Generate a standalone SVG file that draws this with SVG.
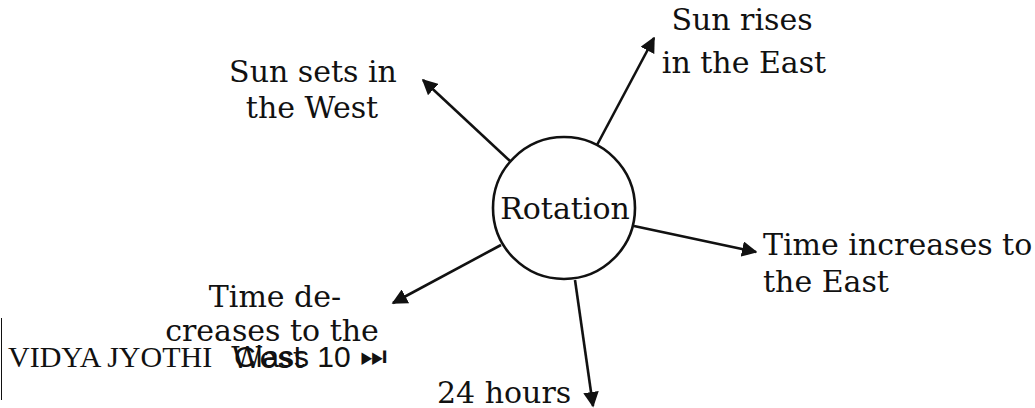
<svg xmlns="http://www.w3.org/2000/svg" width="1035" height="408" viewBox="0 0 1035 408">
<style>
.lbl{font-family:"DejaVu Serif","Liberation Serif",serif;font-size:30px;fill:#111}
.mid{text-anchor:middle}
.ln{stroke:#111;stroke-width:2.6;fill:none}
.ft{font-family:"Liberation Serif",serif;font-size:30px;fill:#111}
.fs{font-family:"Liberation Sans",sans-serif;font-size:30px;fill:#111}
</style>
<defs>
<marker id="ah" viewBox="0 0 10 10" refX="9" refY="5" markerWidth="6" markerHeight="6" orient="auto" markerUnits="strokeWidth">
<path d="M0,0 L10,5 L0,10 Z" fill="#111"/>
</marker>
</defs>
<rect width="1035" height="408" fill="#fff"/>
<g id="connectors">
<line class="ln" x1="510" y1="161" x2="423" y2="80" marker-end="url(#ah)"/>
<line class="ln" x1="597" y1="145" x2="654" y2="38" marker-end="url(#ah)"/>
<line class="ln" x1="634" y1="226" x2="756" y2="252" marker-end="url(#ah)"/>
<line class="ln" x1="501" y1="245" x2="393" y2="303" marker-end="url(#ah)"/>
<line class="ln" x1="575" y1="280" x2="593" y2="406" marker-end="url(#ah)"/>
</g>
<g id="rotation">
<circle cx="564" cy="208" r="71" fill="#fff" stroke="#111" stroke-width="2.6"/>
<text class="lbl mid" x="565" y="219">Rotation</text>
</g>
<g id="sun-rises">
<text class="lbl mid" x="742" y="30">Sun rises</text>
<text class="lbl mid" x="744" y="73">in the East</text>
</g>
<g id="sun-sets">
<text class="lbl mid" x="313" y="82">Sun sets in</text>
<text class="lbl mid" x="312" y="118">the West</text>
</g>
<g id="time-increases">
<text class="lbl" x="763" y="255">Time increases to</text>
<text class="lbl" x="763" y="292">the East</text>
</g>
<g id="time-decreases">
<text class="lbl mid" x="275" y="307">Time de-</text>
<text class="lbl mid" x="272" y="341">creases to the</text>
<text class="lbl mid" x="268" y="368">West</text>
</g>
<g id="hours">
<text class="lbl" x="437" y="403">24 hours</text>
</g>
<g id="footer">
<line x1="1.5" y1="318" x2="1.5" y2="400" stroke="#111" stroke-width="1"/>
<text class="ft" x="8" y="367">VIDYA JYOTHI</text>
<text class="fs" x="234" y="367">Class 10</text>
<text class="fs" x="360" y="366" font-size="22">⏭</text>
</g>
</svg>
